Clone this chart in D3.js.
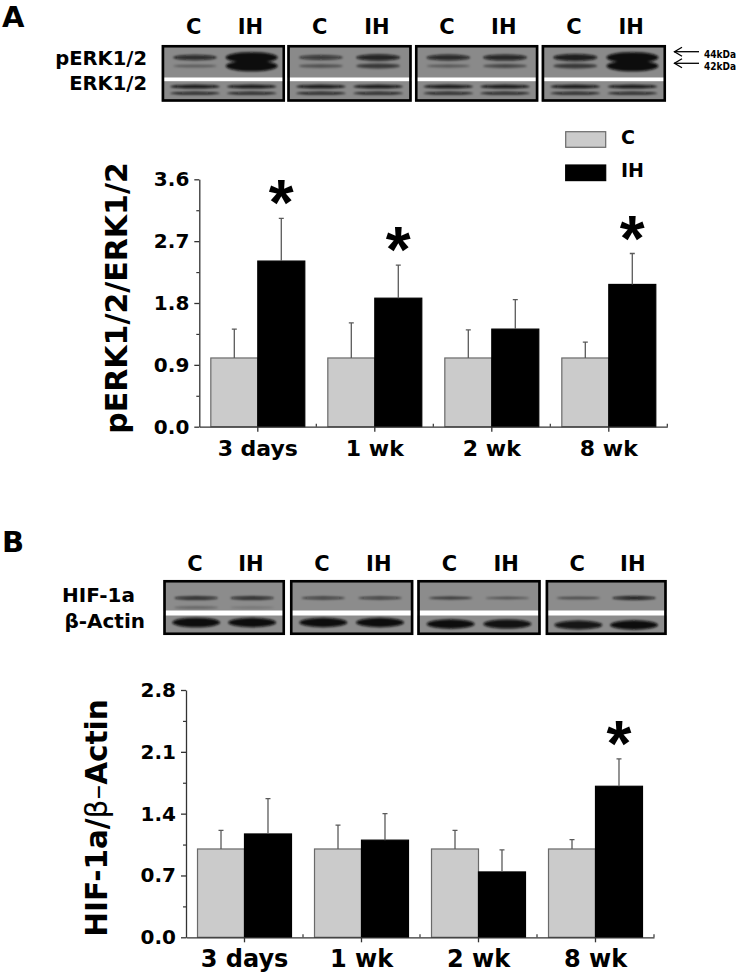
<!DOCTYPE html>
<html><head><meta charset="utf-8">
<script src="https://cdn.jsdelivr.net/npm/d3@7"></script>
<style>body{margin:0;background:#fff}svg{display:block}</style>
</head><body>
<svg id="fig" width="743" height="974"></svg>
<script>
// ---------- DATA ----------
const categories = ["3 days", "1 wk", "2 wk", "8 wk"];
const groups = ["C", "IH"];

// Panel A: pERK1/2 / ERK1/2
const perkC = [1.0, 1.0, 1.0, 1.0];
const perkCSem = [0.42, 0.51, 0.41, 0.23];
const perkIH = [2.41, 1.87, 1.42, 2.07];
const perkIHSem = [0.62, 0.48, 0.43, 0.45];
const perkSig = [true, true, false, true];
const perkTicks = [0, 0.9, 1.8, 2.7, 3.6];

// Panel B: HIF-1a / beta-Actin
const hifC = [1.0, 1.0, 1.0, 1.0];
const hifCSem = [0.21, 0.27, 0.21, 0.105];
const hifIH = [1.17, 1.10, 0.74, 1.71];
const hifIHSem = [0.40, 0.30, 0.25, 0.31];
const hifSig = [false, false, false, true];
const hifTicks = [0, 0.7, 1.4, 2.1, 2.8];

// Western blot band strengths (lanes: C, IH for each time point)
const pERK44 = [0.8, 1.9, 0.6, 0.95, 0.85, 0.9, 1.05, 1.9];
const pERK42 = [0.15, 1.9, 0.3, 0.6, 0.2, 0.4, 0.6, 1.9];
const erkBand = [0.95, 0.95, 0.95, 0.95, 0.95, 0.95, 0.95, 0.95];
const hifBand = [0.75, 0.75, 0.6, 0.6, 0.55, 0.35, 0.4, 0.8];
const actinBand = [1.05, 1.0, 1.0, 1.0, 1.0, 0.95, 0.9, 1.0];

// ---------- DRAW ----------
const svg = d3.select("#fig");
const BOLD = "'DejaVu Sans', sans-serif";
const NARROW = "'Liberation Sans Narrow', 'DejaVu Sans Condensed', sans-serif";

const defs = svg.append("defs");
defs.append("filter").attr("id", "blur").attr("x", "-20%").attr("y", "-100%").attr("width", "140%").attr("height", "300%")
  .append("feGaussianBlur").attr("stdDeviation", 1.3);

function text(g, x, y, s, size, anchor, family, weight) {
  return g.append("text").attr("x", x).attr("y", y).text(s)
    .attr("font-family", family || BOLD).attr("font-weight", weight || "bold")
    .attr("font-size", size).attr("text-anchor", anchor || "start").attr("fill", "#000");
}

// panel letters
text(svg, 2, 27, "A", 29);
text(svg, 2, 552, "B", 29);

function drawBlot(cfg) {
  const g = svg.append("g");
  cfg.boxes.forEach((b, bi) => {
    const w = b[1] - b[0];
    const lanes = [b[0] + w * 0.27, b[0] + w * 0.73];
    // column labels
    text(g, b[0] + w * 0.26, cfg.labelY, "C", 21, "middle");
    text(g, b[0] + w * 0.72, cfg.labelY, "IH", 21, "middle");
    g.append("rect").attr("x", b[0]).attr("y", cfg.top).attr("width", w).attr("height", cfg.bottom - cfg.top)
      .attr("fill", cfg.bg);
    const clipId = cfg.id + "clip" + bi;
    defs.append("clipPath").attr("id", clipId).append("rect")
      .attr("x", b[0]).attr("y", cfg.top).attr("width", w).attr("height", cfg.bottom - cfg.top);
    const bg = g.append("g").attr("clip-path", `url(#${clipId})`);
    const bands = bg.append("g").attr("filter", "url(#blur)");
    lanes.forEach((cx, li) => {
      const i = bi * 2 + li;
      cfg.rows.forEach(r => {
        const s = r.values[i];
        if (s <= 0) return;
        bands.append("ellipse").attr("cx", cx).attr("cy", r.y + (r.shift ? r.shift[bi] : 0))
          .attr("rx", (r.rx || 22) + (s > 1.5 ? 4 : 0))
          .attr("ry", r.ry0 + r.ry1 * s)
          .attr("fill", "#0a0a0a")
          .attr("opacity", Math.min(1, r.op0 + r.op1 * s));
      });
    });
    bg.append("rect").attr("x", b[0]).attr("y", cfg.stripe[0]).attr("width", w)
      .attr("height", cfg.stripe[1] - cfg.stripe[0]).attr("fill", "#fff");
    g.append("rect").attr("x", b[0] + 1.25).attr("y", cfg.top + 1.25).attr("width", w - 2.5)
      .attr("height", cfg.bottom - cfg.top - 2.5).attr("fill", "none").attr("stroke", "#000").attr("stroke-width", 2.6);
  });
  return g;
}

// Blot A
drawBlot({
  id: "A", labelY: 34, top: 45, bottom: 101.7, stripe: [77.5, 81.2], bg: "#8a8a8a",
  boxes: [[161.7, 285], [287.3, 411.7], [415, 538.3], [541.7, 666]],
  rows: [
    { y: 57.5, values: pERK44, ry0: 1.0, ry1: 2.3, op0: 0.35, op1: 0.5 },
    { y: 66, values: pERK42, ry0: 1.0, ry1: 2.3, op0: 0.3, op1: 0.5 },
    { y: 86.6, values: erkBand, rx: 25, ry0: 0.6, ry1: 1.2, op0: 0.4, op1: 0.6 },
    { y: 93.2, values: erkBand, rx: 25, ry0: 0.4, ry1: 1.0, op0: 0.3, op1: 0.6 }
  ]
});
text(svg, 147, 65, "pERK1/2", 19.5, "end");
text(svg, 147, 89.5, "ERK1/2", 19.5, "end");

// kDa arrows
[[51.7, "44kDa", 57.5], [63.3, "42kDa", 70]].forEach(a => {
  svg.append("line").attr("x1", 674).attr("x2", 699).attr("y1", a[0]).attr("y2", a[0])
    .attr("stroke", "#000").attr("stroke-width", 1.3);
  svg.append("path").attr("d", `M682,${a[0] - 4.5}L674.5,${a[0]}L682,${a[0] + 4.5}`)
    .attr("fill", "none").attr("stroke", "#000").attr("stroke-width", 1.3);
  text(svg, 704, a[2], a[1], 10, "start", NARROW);
});

// Blot B
drawBlot({
  id: "B", labelY: 571, top: 580, bottom: 635, stripe: [610.5, 615.5], bg: "#8c8c8c",
  boxes: [[163.3, 285], [290, 413.3], [417.3, 540.7], [545.7, 666.7]],
  rows: [
    { y: 598, values: hifBand, ry0: 0.6, ry1: 1.6, op0: 0.2, op1: 0.8 },
    { y: 607.5, values: [0.3, 0.1, 0, 0, 0, 0, 0, 0], ry0: 0.6, ry1: 1.5, op0: 0.2, op1: 0.6 },
    { y: 622.5, values: actinBand, shift: [0, 0, 1.5, 2.5], rx: 24, ry0: 1.5, ry1: 3.2, op0: 0.3, op1: 0.7 }
  ]
});
text(svg, 135, 601.7, "HIF-1a", 20, "end");
text(svg, 145, 628, "β-Actin", 20, "end");

// Bar charts
function drawChart(cfg) {
  const g = svg.append("g");
  const x = d3.scaleBand().domain(categories).range(cfg.xr).padding(0);
  const x1 = d3.scaleBand().domain(groups).range([0, x.bandwidth()]).paddingInner(0).paddingOuter(0.245);
  const y = d3.scaleLinear().domain([0, cfg.max]).range(cfg.yr);
  const axisColor = "#333";

  const rows = categories.map((c, i) => ({ c, i,
    vals: [{ k: "C", v: cfg.c[i], e: cfg.cSem[i] }, { k: "IH", v: cfg.ih[i], e: cfg.ihSem[i] }] }));

  const grp = g.selectAll(".grp").data(rows).join("g").attr("transform", d => `translate(${x(d.c)},0)`);
  grp.selectAll("rect").data(d => d.vals).join("rect")
    .attr("x", d => x1(d.k)).attr("width", x1.bandwidth())
    .attr("y", d => y(d.v)).attr("height", d => y(0) - y(d.v))
    .attr("fill", d => d.k === "C" ? "#cbcbcb" : "#000")
    .attr("stroke", d => d.k === "C" ? "#6a6a6a" : "#000").attr("stroke-width", 1.2);
  // error bars
  grp.selectAll(".err").data(d => d.vals).join("path")
    .attr("d", d => {
      const cx = x1(d.k) + x1.bandwidth() / 2;
      const t = y(d.v + d.e);
      return `M${cx},${y(d.v)}V${t}M${cx - 2.5},${t}H${cx + 2.5}`;
    })
    .attr("fill", "none").attr("stroke", "#5a5a5a").attr("stroke-width", 1.3);
  // significance
  grp.filter(d => cfg.sig[d.i]).append("text")
    .attr("x", x1("IH") + x1.bandwidth() / 2)
    .attr("y", d => y(d.vals[1].v + d.vals[1].e) - 28 + 35)
    .attr("text-anchor", "middle").attr("font-family", "'Liberation Sans', Arial, sans-serif")
    .attr("font-weight", "bold").attr("font-size", 64).text("*");

  // y axis
  const ya = g.append("g").attr("transform", `translate(${cfg.xr[0]},0)`)
    .call(d3.axisLeft(y).tickValues(cfg.ticks).tickSize(5).tickSizeOuter(0).tickPadding(5).tickFormat(d3.format(".1f")));
  ya.select(".domain").attr("stroke", axisColor).attr("stroke-width", 1.3);
  ya.selectAll(".tick line").attr("stroke", axisColor).attr("stroke-width", 1.3);
  ya.selectAll("text").attr("font-family", BOLD).attr("font-weight", "bold").attr("font-size", 20).attr("fill", "#000");
  const minor = d3.range(cfg.ticks.length - 1).map(i => (cfg.ticks[i] + cfg.ticks[i + 1]) / 2);
  const ym = g.append("g").attr("transform", `translate(${cfg.xr[0]},0)`)
    .call(d3.axisLeft(y).tickValues(minor).tickSize(3).tickSizeOuter(0).tickFormat(""));
  ym.select(".domain").remove();
  ym.selectAll(".tick line").attr("stroke", axisColor).attr("stroke-width", 1.2);

  // x axis
  const xa = g.append("g").attr("transform", `translate(0,${y(0)})`)
    .call(d3.axisBottom(x).tickSize(5).tickSizeOuter(0));
  xa.select(".domain").attr("stroke", axisColor).attr("stroke-width", 1.3);
  xa.selectAll(".tick line").attr("stroke", axisColor).attr("stroke-width", 1.3);
  xa.selectAll("text").attr("y", cfg.labelOff).attr("dy", null)
    .attr("font-family", BOLD).attr("font-weight", "bold").attr("font-size", cfg.catSize).attr("fill", "#000");
  // boundary minor ticks (pointing up)
  xa.selectAll(".bnd").data(categories.slice(1).concat(["end"])).join("line")
    .attr("x1", (d, i) => i < 3 ? x(d) : cfg.xr[1]).attr("x2", (d, i) => i < 3 ? x(d) : cfg.xr[1])
    .attr("y1", 0).attr("y2", -3).attr("stroke", axisColor).attr("stroke-width", 1.2);

  // y label
  const yl = g.append("text").attr("transform", `translate(${cfg.ylx},${cfg.yly}) rotate(-90)`)
    .attr("text-anchor", "middle").attr("font-family", BOLD).attr("font-weight", "bold")
    .attr("font-size", cfg.ylSize).attr("fill", "#000");
  cfg.ylabel.forEach(p => yl.append("tspan").text(p[0]).attr("font-weight", p[1] ? "normal" : "bold"));
  return { x, y };
}

drawChart({
  xr: [199.3, 667.3], yr: [426.7, 179.3], max: 3.6, ticks: perkTicks,
  c: perkC, cSem: perkCSem, ih: perkIH, ihSem: perkIHSem, sig: perkSig,
  labelOff: 29.3, catSize: 22, ylx: 126.7, yly: 298, ylSize: 30,
  ylabel: [["pERK1/2/ERK1/2", false]]
});

drawChart({
  xr: [186, 654], yr: [937.3, 690], max: 2.8, ticks: hifTicks,
  c: hifC, cSem: hifCSem, ih: hifIH, ihSem: hifIHSem, sig: hifSig,
  labelOff: 29.4, catSize: 24, ylx: 106.5, yly: 818, ylSize: 29.5,
  ylabel: [["HIF-1a/", false], ["β–", true], ["Actin", false]]
});

// legend (panel A)
const lg = svg.append("g");
groups.forEach((k, i) => {
  const yy = [131.7, 165][i];
  lg.append("rect").attr("x", 565.7).attr("y", yy).attr("width", 40).attr("height", 15.6)
    .attr("fill", k === "C" ? "#cbcbcb" : "#000").attr("stroke", k === "C" ? "#6a6a6a" : "#000").attr("stroke-width", 1.2);
  text(lg, 621, yy + 12.3, k, 19);
});
</script>
</body></html>
